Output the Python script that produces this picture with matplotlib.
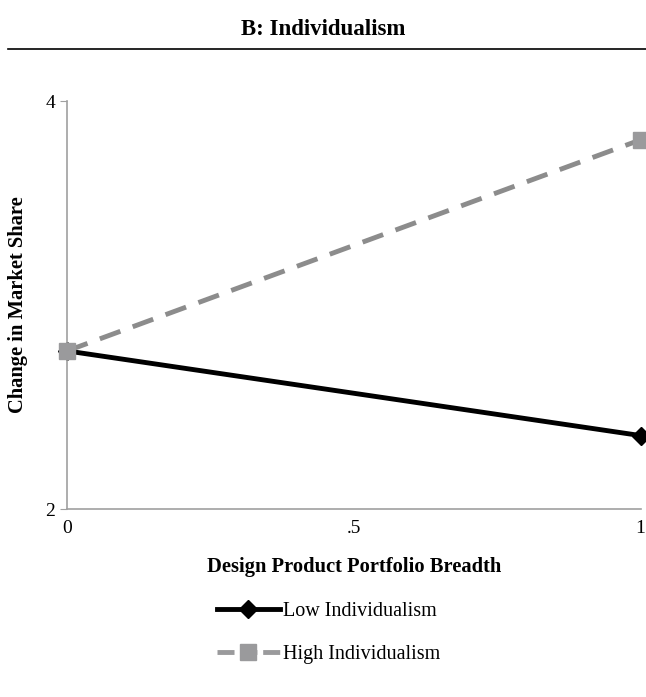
import numpy as np
from matplotlib import pyplot as plt
from matplotlib.lines import Line2D

plt.rcParams['font.family'] = ['Liberation Serif', 'DejaVu Serif']

# data
x_vals = [0, 1]
low_ind = [2.775, 2.36]
high_ind = [2.775, 3.81]
x_ticks = [0, 0.5, 1]
x_tick_labels = ['0', '.5', '1']
y_ticks = [2, 4]

fig = plt.figure(figsize=(6.46, 6.97), dpi=100)
ax = fig.add_axes([0.1037, 0.2697, 0.888, 0.5853])

ax.plot(x_vals, high_ind, color='#8c8c8c', lw=3.5, ls=(0, (4.5, 2.7)),
        marker='s', ms=12, markerfacecolor='#9a9a9c', markeredgecolor='#9a9a9c',
        clip_on=False, zorder=3)
ax.plot(x_vals, low_ind, color='black', lw=3.5,
        marker='D', ms=9, clip_on=False, zorder=2)

ax.set_xlim(0, 1)
ax.set_ylim(2, 4)
ax.set_xticks(x_ticks)
ax.set_xticklabels(x_tick_labels)
ax.set_yticks(y_ticks)
ax.tick_params(axis='both', labelsize=14, color='#a0a0a0', length=5)
ax.tick_params(axis='x', length=0, pad=8)
for s in ['top', 'right']:
    ax.spines[s].set_visible(False)
for s in ['left', 'bottom']:
    ax.spines[s].set_color('#a0a0a0')
    ax.spines[s].set_linewidth(1.2)

ax.set_xlabel('Design Product Portfolio Breadth', fontsize=14.8, fontweight='bold', labelpad=14)
ax.set_ylabel('Change in Market Share', fontsize=14.8, fontweight='bold')
ax.yaxis.set_label_coords(-0.068, 0.5)

# title with rule below
fig.text(0.5, 0.957, 'B: Individualism', ha='center', va='center', fontsize=16.5, fontweight='bold')
fig.add_artist(Line2D([0.012, 1.0], [0.93, 0.93], color='black', lw=1.2))

handles = [
    Line2D([], [], color='black', lw=3.5, marker='D', ms=9),
    Line2D([], [], color='#9a9a9c', lw=3.5, ls=(0, (3.5, 1.2)), marker='s', ms=12),
]
fig.legend(handles, ['Low Individualism', 'High Individualism'],
           loc='center left', bbox_to_anchor=(0.308, 0.092), frameon=False,
           fontsize=14.5, handlelength=3.1, handletextpad=0.15, labelspacing=1.2)

fig.savefig('out.png', dpi=100)
